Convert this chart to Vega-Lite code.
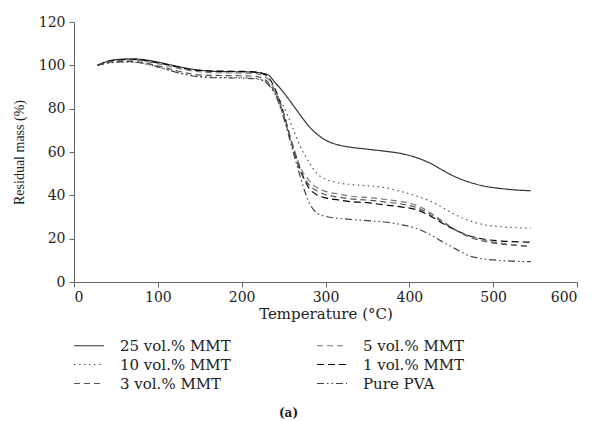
{
  "$schema": "https://vega.github.io/schema/vega-lite/v6.json",
  "width": 503,
  "height": 260,
  "autosize": "none",
  "padding": {"left": 74, "top": 22, "right": 17, "bottom": 139},
  "background": "white",
  "title": {"text": "(a)", "orient": "bottom", "anchor": "middle", "offset": 16, "font": "DejaVu Serif", "fontSize": 12, "fontWeight": "bold", "color": "#222", "dx": -37},
  "config": {
    "view": {"stroke": null},
    "axis": {"grid": false, "domainColor": "#666", "tickColor": "#666", "labelColor": "#222", "titleColor": "#222", "labelFont": "DejaVu Serif", "titleFont": "DejaVu Serif", "labelFontSize": 14, "titleFontWeight": "normal", "tickSize": 5}
  },
  "datasets": {
    "tga": [
      {"s":"25 vol.% MMT","T":28,"M":100},{"s":"25 vol.% MMT","T":40,"M":101.8},{"s":"25 vol.% MMT","T":55,"M":102.8},{"s":"25 vol.% MMT","T":70,"M":103},{"s":"25 vol.% MMT","T":85,"M":102.5},{"s":"25 vol.% MMT","T":100,"M":101.5},{"s":"25 vol.% MMT","T":120,"M":99.8},{"s":"25 vol.% MMT","T":140,"M":98.3},{"s":"25 vol.% MMT","T":160,"M":97.4},{"s":"25 vol.% MMT","T":180,"M":97.1},{"s":"25 vol.% MMT","T":200,"M":97},{"s":"25 vol.% MMT","T":215,"M":96.8},{"s":"25 vol.% MMT","T":225,"M":96.3},{"s":"25 vol.% MMT","T":232,"M":95.5},{"s":"25 vol.% MMT","T":240,"M":92},{"s":"25 vol.% MMT","T":250,"M":87.5},{"s":"25 vol.% MMT","T":260,"M":82.3},{"s":"25 vol.% MMT","T":270,"M":77},{"s":"25 vol.% MMT","T":280,"M":72},{"s":"25 vol.% MMT","T":290,"M":68.2},{"s":"25 vol.% MMT","T":300,"M":65.5},{"s":"25 vol.% MMT","T":315,"M":63.3},{"s":"25 vol.% MMT","T":330,"M":62.2},{"s":"25 vol.% MMT","T":350,"M":61.3},{"s":"25 vol.% MMT","T":370,"M":60.4},{"s":"25 vol.% MMT","T":390,"M":59.3},{"s":"25 vol.% MMT","T":410,"M":57.2},{"s":"25 vol.% MMT","T":425,"M":54.8},{"s":"25 vol.% MMT","T":440,"M":51.5},{"s":"25 vol.% MMT","T":455,"M":48.5},{"s":"25 vol.% MMT","T":470,"M":46.3},{"s":"25 vol.% MMT","T":490,"M":44.2},{"s":"25 vol.% MMT","T":510,"M":43.1},{"s":"25 vol.% MMT","T":530,"M":42.4},{"s":"25 vol.% MMT","T":545,"M":42.1},

      {"s":"1 vol.% MMT","T":28,"M":100},{"s":"1 vol.% MMT","T":40,"M":101.8},{"s":"1 vol.% MMT","T":55,"M":102.6},{"s":"1 vol.% MMT","T":70,"M":102.7},{"s":"1 vol.% MMT","T":85,"M":102.2},{"s":"1 vol.% MMT","T":100,"M":101.2},{"s":"1 vol.% MMT","T":120,"M":99.5},{"s":"1 vol.% MMT","T":140,"M":98},{"s":"1 vol.% MMT","T":160,"M":97.4},{"s":"1 vol.% MMT","T":180,"M":97.3},{"s":"1 vol.% MMT","T":200,"M":97.2},{"s":"1 vol.% MMT","T":215,"M":97},{"s":"1 vol.% MMT","T":225,"M":96.2},{"s":"1 vol.% MMT","T":232,"M":94.5},{"s":"1 vol.% MMT","T":240,"M":89},{"s":"1 vol.% MMT","T":250,"M":78},{"s":"1 vol.% MMT","T":260,"M":64},{"s":"1 vol.% MMT","T":270,"M":52},{"s":"1 vol.% MMT","T":280,"M":43.5},{"s":"1 vol.% MMT","T":290,"M":40.2},{"s":"1 vol.% MMT","T":300,"M":38.8},{"s":"1 vol.% MMT","T":315,"M":37.9},{"s":"1 vol.% MMT","T":330,"M":37.1},{"s":"1 vol.% MMT","T":350,"M":36.6},{"s":"1 vol.% MMT","T":370,"M":35.6},{"s":"1 vol.% MMT","T":390,"M":34.7},{"s":"1 vol.% MMT","T":410,"M":33.2},{"s":"1 vol.% MMT","T":425,"M":30.5},{"s":"1 vol.% MMT","T":440,"M":27},{"s":"1 vol.% MMT","T":455,"M":24},{"s":"1 vol.% MMT","T":470,"M":21.5},{"s":"1 vol.% MMT","T":490,"M":19.7},{"s":"1 vol.% MMT","T":510,"M":18.9},{"s":"1 vol.% MMT","T":530,"M":18.5},{"s":"1 vol.% MMT","T":545,"M":18.4},

      {"s":"5 vol.% MMT","T":28,"M":100},{"s":"5 vol.% MMT","T":40,"M":101.5},{"s":"5 vol.% MMT","T":55,"M":102.3},{"s":"5 vol.% MMT","T":70,"M":102.4},{"s":"5 vol.% MMT","T":85,"M":101.8},{"s":"5 vol.% MMT","T":100,"M":100.8},{"s":"5 vol.% MMT","T":120,"M":99},{"s":"5 vol.% MMT","T":140,"M":97.5},{"s":"5 vol.% MMT","T":160,"M":96.7},{"s":"5 vol.% MMT","T":180,"M":96.5},{"s":"5 vol.% MMT","T":200,"M":96.4},{"s":"5 vol.% MMT","T":215,"M":96.2},{"s":"5 vol.% MMT","T":225,"M":95.3},{"s":"5 vol.% MMT","T":232,"M":93.5},{"s":"5 vol.% MMT","T":240,"M":88},{"s":"5 vol.% MMT","T":250,"M":77.5},{"s":"5 vol.% MMT","T":260,"M":64.5},{"s":"5 vol.% MMT","T":270,"M":53},{"s":"5 vol.% MMT","T":280,"M":47},{"s":"5 vol.% MMT","T":290,"M":43.5},{"s":"5 vol.% MMT","T":300,"M":41.8},{"s":"5 vol.% MMT","T":315,"M":40.6},{"s":"5 vol.% MMT","T":330,"M":39.6},{"s":"5 vol.% MMT","T":350,"M":39},{"s":"5 vol.% MMT","T":370,"M":38.2},{"s":"5 vol.% MMT","T":390,"M":37.1},{"s":"5 vol.% MMT","T":410,"M":35.2},{"s":"5 vol.% MMT","T":425,"M":32},{"s":"5 vol.% MMT","T":440,"M":28},{"s":"5 vol.% MMT","T":455,"M":24},{"s":"5 vol.% MMT","T":470,"M":21.5},{"s":"5 vol.% MMT","T":490,"M":19.3},{"s":"5 vol.% MMT","T":510,"M":17.8},{"s":"5 vol.% MMT","T":530,"M":16.9},{"s":"5 vol.% MMT","T":545,"M":16.5},

      {"s":"3 vol.% MMT","T":28,"M":100},{"s":"3 vol.% MMT","T":40,"M":101.2},{"s":"3 vol.% MMT","T":55,"M":101.8},{"s":"3 vol.% MMT","T":70,"M":101.8},{"s":"3 vol.% MMT","T":85,"M":101},{"s":"3 vol.% MMT","T":100,"M":99.8},{"s":"3 vol.% MMT","T":120,"M":97.8},{"s":"3 vol.% MMT","T":140,"M":96},{"s":"3 vol.% MMT","T":160,"M":95.4},{"s":"3 vol.% MMT","T":180,"M":95.3},{"s":"3 vol.% MMT","T":200,"M":95.2},{"s":"3 vol.% MMT","T":215,"M":95},{"s":"3 vol.% MMT","T":225,"M":94},{"s":"3 vol.% MMT","T":232,"M":92},{"s":"3 vol.% MMT","T":240,"M":87},{"s":"3 vol.% MMT","T":250,"M":76.5},{"s":"3 vol.% MMT","T":260,"M":63},{"s":"3 vol.% MMT","T":270,"M":51},{"s":"3 vol.% MMT","T":280,"M":45},{"s":"3 vol.% MMT","T":290,"M":42},{"s":"3 vol.% MMT","T":300,"M":40.3},{"s":"3 vol.% MMT","T":315,"M":39.2},{"s":"3 vol.% MMT","T":330,"M":38.4},{"s":"3 vol.% MMT","T":350,"M":37.8},{"s":"3 vol.% MMT","T":370,"M":37},{"s":"3 vol.% MMT","T":390,"M":36},{"s":"3 vol.% MMT","T":410,"M":34.2},{"s":"3 vol.% MMT","T":425,"M":31.2},{"s":"3 vol.% MMT","T":440,"M":27.5},{"s":"3 vol.% MMT","T":455,"M":24},{"s":"3 vol.% MMT","T":470,"M":21},{"s":"3 vol.% MMT","T":490,"M":18.7},{"s":"3 vol.% MMT","T":510,"M":17.5},{"s":"3 vol.% MMT","T":530,"M":16.8},{"s":"3 vol.% MMT","T":545,"M":16.4},

      {"s":"10 vol.% MMT","T":28,"M":100},{"s":"10 vol.% MMT","T":40,"M":101},{"s":"10 vol.% MMT","T":55,"M":101.5},{"s":"10 vol.% MMT","T":70,"M":101.5},{"s":"10 vol.% MMT","T":85,"M":100.7},{"s":"10 vol.% MMT","T":100,"M":99.2},{"s":"10 vol.% MMT","T":120,"M":97},{"s":"10 vol.% MMT","T":140,"M":95.3},{"s":"10 vol.% MMT","T":160,"M":94.6},{"s":"10 vol.% MMT","T":180,"M":94.4},{"s":"10 vol.% MMT","T":200,"M":94.3},{"s":"10 vol.% MMT","T":215,"M":94},{"s":"10 vol.% MMT","T":225,"M":93.2},{"s":"10 vol.% MMT","T":232,"M":91.5},{"s":"10 vol.% MMT","T":240,"M":87.5},{"s":"10 vol.% MMT","T":250,"M":81},{"s":"10 vol.% MMT","T":260,"M":72},{"s":"10 vol.% MMT","T":270,"M":62.5},{"s":"10 vol.% MMT","T":280,"M":55.5},{"s":"10 vol.% MMT","T":290,"M":50},{"s":"10 vol.% MMT","T":300,"M":47.5},{"s":"10 vol.% MMT","T":315,"M":45.8},{"s":"10 vol.% MMT","T":330,"M":45},{"s":"10 vol.% MMT","T":350,"M":44.4},{"s":"10 vol.% MMT","T":370,"M":43.6},{"s":"10 vol.% MMT","T":390,"M":41.8},{"s":"10 vol.% MMT","T":410,"M":39.5},{"s":"10 vol.% MMT","T":425,"M":37.3},{"s":"10 vol.% MMT","T":440,"M":34.3},{"s":"10 vol.% MMT","T":455,"M":31},{"s":"10 vol.% MMT","T":470,"M":28.5},{"s":"10 vol.% MMT","T":490,"M":26.4},{"s":"10 vol.% MMT","T":510,"M":25.5},{"s":"10 vol.% MMT","T":530,"M":25},{"s":"10 vol.% MMT","T":545,"M":24.8},

      {"s":"Pure PVA","T":28,"M":100},{"s":"Pure PVA","T":40,"M":101},{"s":"Pure PVA","T":55,"M":101.6},{"s":"Pure PVA","T":70,"M":101.5},{"s":"Pure PVA","T":85,"M":100.7},{"s":"Pure PVA","T":100,"M":99.3},{"s":"Pure PVA","T":120,"M":97},{"s":"Pure PVA","T":140,"M":95.2},{"s":"Pure PVA","T":160,"M":94.4},{"s":"Pure PVA","T":180,"M":94.2},{"s":"Pure PVA","T":200,"M":94.1},{"s":"Pure PVA","T":215,"M":93.8},{"s":"Pure PVA","T":225,"M":93},{"s":"Pure PVA","T":232,"M":91},{"s":"Pure PVA","T":240,"M":86.5},{"s":"Pure PVA","T":250,"M":76},{"s":"Pure PVA","T":260,"M":62},{"s":"Pure PVA","T":270,"M":48.5},{"s":"Pure PVA","T":280,"M":37},{"s":"Pure PVA","T":290,"M":31.8},{"s":"Pure PVA","T":300,"M":30.3},{"s":"Pure PVA","T":315,"M":29.4},{"s":"Pure PVA","T":330,"M":28.9},{"s":"Pure PVA","T":350,"M":28.3},{"s":"Pure PVA","T":370,"M":27.7},{"s":"Pure PVA","T":390,"M":26.5},{"s":"Pure PVA","T":410,"M":24.5},{"s":"Pure PVA","T":425,"M":21.8},{"s":"Pure PVA","T":440,"M":18.5},{"s":"Pure PVA","T":455,"M":15.3},{"s":"Pure PVA","T":470,"M":12.3},{"s":"Pure PVA","T":490,"M":10.6},{"s":"Pure PVA","T":510,"M":9.9},{"s":"Pure PVA","T":530,"M":9.5},{"s":"Pure PVA","T":545,"M":9.4}
    ]
  },
  "data": {"name": "tga"},
  "mark": {"type": "line", "interpolate": "monotone"},
  "encoding": {
    "x": {"field": "T", "type": "quantitative", "scale": {"domain": [0, 600], "nice": false, "zero": false},
          "axis": {"values": [0,100,200,300,400,500,600], "title": "Temperature (°C)", "titleFontSize": 15, "titlePadding": 2, "labelPadding": 3}},
    "y": {"field": "M", "type": "quantitative", "scale": {"domain": [0, 120], "nice": false},
          "axis": {"values": [0,20,40,60,80,100,120], "title": "Residual mass (%)", "titleFont": "Liberation Serif", "titleFontSize": 14, "titlePadding": 12, "labelPadding": 4}},
    "color": {"field": "s", "type": "nominal",
              "scale": {"domain": ["25 vol.% MMT","10 vol.% MMT","3 vol.% MMT","5 vol.% MMT","1 vol.% MMT","Pure PVA"],
                        "range": ["#333333","#555555","#555555","#777777","#000000","#444444"]},
              "legend": {"title": null, "orient": "none", "legendX": 6.5, "legendY": 315, "columns": 2, "direction": "vertical",
                         "columnPadding": 83, "rowPadding": 2, "symbolType": "M-2,0H2", "symbolSize": 225, "symbolStrokeWidth": 1.3,
                         "labelFont": "DejaVu Serif", "labelFontSize": 15, "labelColor": "#222", "labelOffset": 22.5, "labelLimit": 300, "gridAlign": "all"}},
    "strokeDash": {"field": "s", "type": "nominal",
                   "scale": {"domain": ["25 vol.% MMT","10 vol.% MMT","3 vol.% MMT","5 vol.% MMT","1 vol.% MMT","Pure PVA"],
                             "range": [[1,0],[1.5,3.5],[6,4],[6,4],[7,4],[7,3,1.5,3,1.5,3]]}},
    "strokeWidth": {"field": "s", "type": "nominal",
                    "scale": {"domain": ["25 vol.% MMT","10 vol.% MMT","3 vol.% MMT","5 vol.% MMT","1 vol.% MMT","Pure PVA"],
                              "range": [1.2,1.2,1.3,1.3,2.2,1.2]}}
  }
}
